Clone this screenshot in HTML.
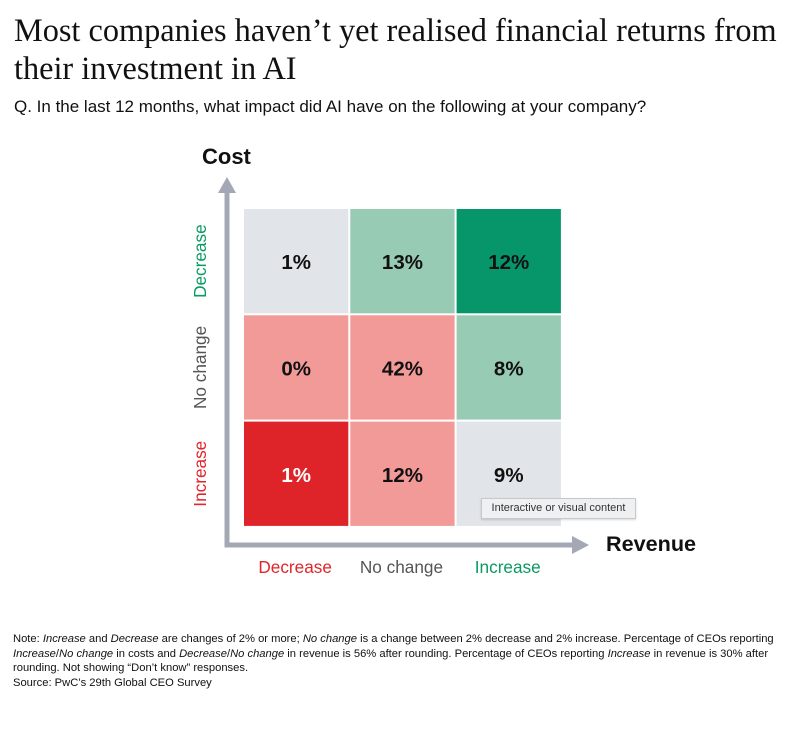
<!DOCTYPE html>
<html><head><meta charset="utf-8"><style>
body{margin:0;width:806px;height:729px;background:#fff;font-family:"Liberation Sans",sans-serif;position:relative;overflow:hidden}
.t{position:absolute;white-space:nowrap}
</style></head><body>
<div class="t" style="left:14px;top:11px;font-family:'Liberation Serif',serif;font-size:32.3px;line-height:38px;color:#111">Most companies haven’t yet realised financial returns from<br>their investment in AI</div>
<div class="t" style="left:14px;top:97px;font-size:17px;color:#111">Q. In the last 12 months, what impact did AI have on the following at your company?</div>
<svg id="chart" width="806" height="620" style="position:absolute;left:0;top:0"></svg>
<div class="t" style="left:481px;top:498px;width:153px;height:19px;border:1px solid #c8c8c8;background:#eef0f2;font-size:11px;line-height:19px;color:#333;text-align:center;box-shadow:0 1px 2px rgba(0,0,0,.15)">Interactive or visual content</div>
<div class="t" style="left:13px;top:632px;font-size:11.2px;line-height:14.5px;color:#111">Note: <i>Increase</i> and <i>Decrease</i> are changes of 2% or more; <i>No change</i> is a change between 2% decrease and 2% increase. Percentage of CEOs reporting<br><i>Increase</i>/<i>No change</i> in costs and <i>Decrease</i>/<i>No change</i> in revenue is 56% after rounding. Percentage of CEOs reporting <i>Increase</i> in revenue is 30% after<br>rounding. Not showing “Don’t know” responses.<br>Source: PwC’s 29th Global CEO Survey</div>
<script>
const revenueCats=["Decrease","No change","Increase"];
const costCats=["Decrease","No change","Increase"];
const values=[[1,13,12],[0,42,8],[1,12,9]];
const cellColors=[["#e1e4e8","#98cbb4","#079669"],["#f29a97","#f29a97","#98cbb4"],["#de2428","#f29a97","#e1e4e8"]];
const catColors=["#e0262a","#555","#0a9a63"];
const ns="http://www.w3.org/2000/svg";
const svg=document.getElementById('chart');
function el(tag,a){const e=document.createElementNS(ns,tag);for(const k in a)e.setAttribute(k,a[k]);svg.appendChild(e);return e;}
const x0=244,y0=209,cw=106.3,ch=106.3;
const xs=i=>x0+i*cw, ys=j=>y0+j*ch;
values.forEach((row,j)=>row.forEach((v,i)=>{
  const r=el('rect',{x:xs(i),y:ys(j),width:cw-2,height:ch-2,fill:cellColors[j][i]});
  
  
  const t=el('text',{x:xs(i)+cw/2-1,y:ys(j)+ch/2+7,'text-anchor':'middle','font-size':20.5,'font-weight':'bold',fill:(cellColors[j][i]=="#de2428")?'#fff':'#111'});
  t.textContent=v+'%';
  
  
}));
const ax=el('path',{d:'M227 190 L227 545 L575 545',stroke:'#a3a8b4','stroke-width':5,fill:'none'});


const a1=el('path',{d:'M218 193 L227 177 L236 193 Z',fill:'#a3a8b4'});


const a2=el('path',{d:'M572 536 L589 545 L572 554 Z',fill:'#a3a8b4'});


const ct=el('text',{x:202,y:164,'font-size':22,'font-weight':'bold',fill:'#111'});ct.textContent='Cost';


const rt=el('text',{x:606,y:551,'font-size':21.6,'font-weight':'bold',fill:'#111'});rt.textContent='Revenue';


revenueCats.forEach((c,i)=>{
  const t=el('text',{x:xs(i)+cw/2-2,y:573,'text-anchor':'middle','font-size':17.2,fill:catColors[i]});t.textContent=c;
  
  
});
const rowColors=["#0a9a63","#555","#e0262a"];
costCats.forEach((c,j)=>{
  const cy=ys(j)+ch/2-1;
  const t=el('text',{x:0,y:0,'text-anchor':'middle','font-size':17.2,fill:rowColors[j],transform:`translate(206 ${cy}) rotate(-90)`});t.textContent=c;
  
  
});
</script>
</body></html>
